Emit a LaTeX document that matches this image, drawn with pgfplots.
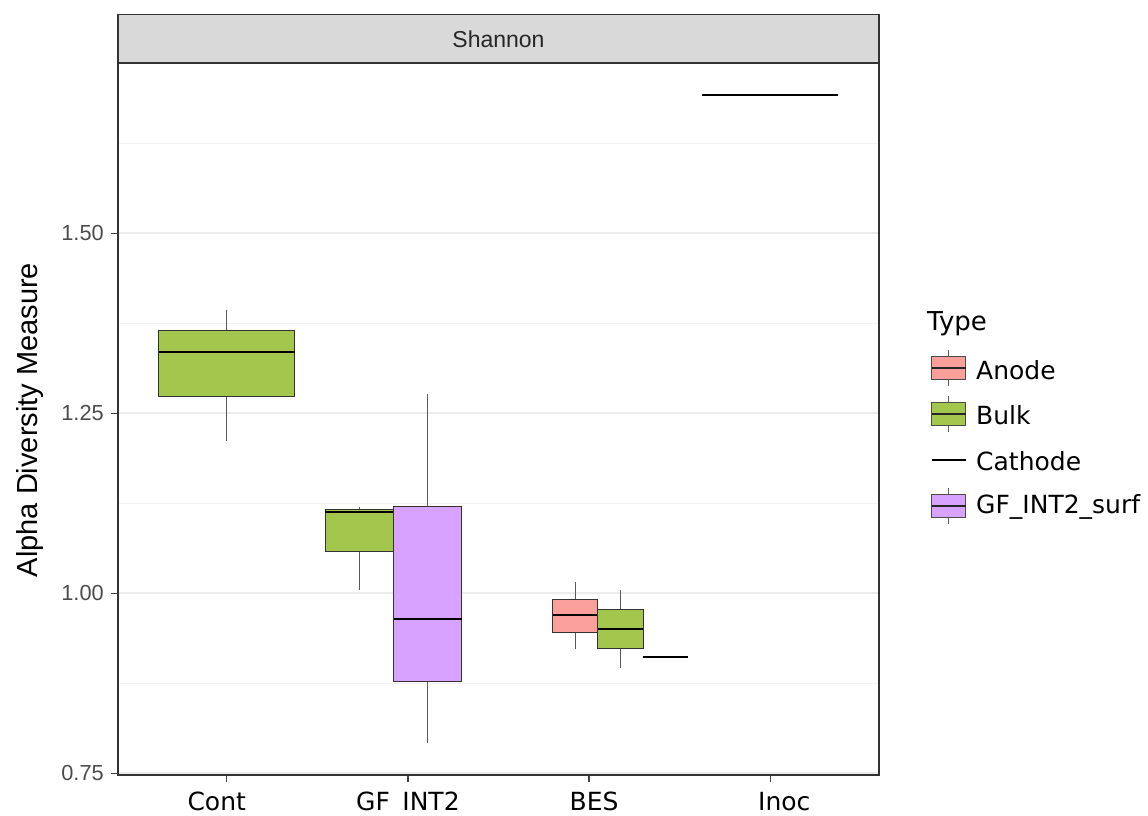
\documentclass[border=0pt]{standalone}
\usepackage{fontspec}
\setmainfont{Liberation Sans}
\newfontfamily\dejavu{DejaVu Sans}
\usepackage{pgfplots}
\pgfplotsset{compat=1.18}
\usepgfplotslibrary{statistics}
\definecolor{anodefill}{HTML}{FA9F99}
\definecolor{bulkfill}{HTML}{A3C64C}
\definecolor{surffill}{HTML}{D8A3FF}
\definecolor{boxline}{HTML}{333333}
\definecolor{gridmaj}{HTML}{EBEBEB}
\definecolor{gridmin}{HTML}{F2F2F2}
\definecolor{stripfill}{HTML}{D9D9D9}
\pgfplotsset{
  mybox/.style={draw=boxline, line width=0.9pt, solid},
  boxplot/draw direction=y,
  boxplot/every median/.style={draw=black, line width=2pt},
  boxplot/every whisker/.style={draw=black!65, line width=1pt},
}
\begin{document}
\begin{tikzpicture}[x=1pt,y=1pt]
\useasboundingbox (0,0) rectangle (1148,-816);
\begin{axis}[
  name=ax,
  at={(118pt,-775pt)}, anchor=south west,
  scale only axis, width=761pt, height=711.7pt,
  xmin=0.4, xmax=4.6, ymin=0.7475, ymax=1.7365,
  xtick={1,2,3,4},
  xticklabels={\hspace*{-20pt}Cont, GF\makebox[0.5em]{}INT2, \hspace*{10pt}BES, \hspace*{28pt}Inoc},
  ytick={0.75,1,1.25,1.5},
  yticklabels={0.75,1.00,1.25,1.50},
  minor ytick={0.875,1.125,1.375,1.625},
  ymajorgrids, yminorgrids, xmajorgrids=false,
  major grid style={draw=gridmaj, line width=2pt},
  minor grid style={draw=gridmin, line width=1.2pt},
  tick pos=left, tick align=outside,
  major tick length=7pt, minor tick length=0pt,
  every tick/.style={draw=black!75, line width=1.4pt},
  axis line style={draw=black!80, line width=1.6pt},
  /pgf/number format/assume math mode=true,
  yticklabel style={font=\fontsize{21.8}{24}\selectfont, text=black!70, inner sep=0pt, xshift=-7pt},
  xticklabel style={font=\dejavu\fontsize{25}{28}\selectfont, text=black, inner sep=0pt, yshift=-10pt},
  clip=false,
]
% Cont - Bulk
\addplot[mybox, fill=bulkfill, boxplot prepared={
  lower whisker=1.212, lower quartile=1.273, median=1.336,
  upper quartile=1.365, upper whisker=1.393,
  draw position=1, box extend=0.752, whisker extend=0}] coordinates {};
% GF_INT2 - Bulk
\addplot[mybox, fill=bulkfill, boxplot prepared={
  lower whisker=1.004, lower quartile=1.058, median=1.1125,
  upper quartile=1.116, upper whisker=1.120,
  draw position=1.733, box extend=0.376, whisker extend=0}] coordinates {};
% GF_INT2 - GF_INT2_surf
\addplot[mybox, fill=surffill, boxplot prepared={
  lower whisker=0.792, lower quartile=0.878, median=0.964,
  upper quartile=1.121, upper whisker=1.277,
  draw position=2.109, box extend=0.376, whisker extend=0}] coordinates {};
% BES - Anode
\addplot[mybox, fill=anodefill, boxplot prepared={
  lower whisker=0.923, lower quartile=0.946, median=0.970,
  upper quartile=0.992, upper whisker=1.016,
  draw position=2.923, box extend=0.25, whisker extend=0}] coordinates {};
% BES - Bulk
\addplot[mybox, fill=bulkfill, boxplot prepared={
  lower whisker=0.896, lower quartile=0.923, median=0.950,
  upper quartile=0.977, upper whisker=1.005,
  draw position=3.173, box extend=0.25, whisker extend=0}] coordinates {};
% BES - Cathode
\addplot[draw=black, line width=2pt, mark=none] coordinates {(3.298,0.911) (3.548,0.911)};
% Inoc - Cathode
\addplot[draw=black, line width=2pt, mark=none] coordinates {(3.624,1.692) (4.376,1.692)};
\end{axis}
% panel border (top/right)
\draw[draw=black!80, line width=1.6pt] (118,-775) rectangle (879,-63.3);
% facet strip
\draw[fill=stripfill, draw=black!80, line width=1.6pt] (118,-63.3) rectangle (879,-14.7);
\node[font=\fontsize{23}{26}\selectfont, text=black!85] at (498.5,-39) {Shannon};
% y title
\node[rotate=90, font=\fontsize{29}{32}\selectfont] at (30,-420) {Alpha Diversity Measure};
% legend
\begin{scope}[font=\dejavu\fontsize{25}{28}\selectfont]
\node[anchor=west, inner sep=0pt, font=\dejavu\fontsize{26}{28}\selectfont] at (927,-324) {Type};
\foreach \yc/\col in {368/anodefill, 414/bulkfill, 506/surffill}{
  \draw[black!65, line width=1pt] (948.7,-\yc+18) -- (948.7,-\yc-18);
  \draw[fill=\col, draw=black!70, line width=0.9pt] (931.7,-\yc-11.7) rectangle (965.7,-\yc+11.7);
  \draw[black!85, line width=1.3pt] (931.7,-\yc) -- (965.7,-\yc);
}
\draw[black, line width=2pt] (931.7,-460) -- (965.7,-460);
\node[anchor=west, inner sep=0pt] at (976,-370) {Anode};
\node[anchor=west, inner sep=0pt] at (976,-415) {Bulk};
\node[anchor=west, inner sep=0pt] at (976,-461) {Cathode};
\node[anchor=west, inner sep=0pt] at (976,-507) {GF\_INT2\_surf};
\end{scope}
\end{tikzpicture}
\end{document}
